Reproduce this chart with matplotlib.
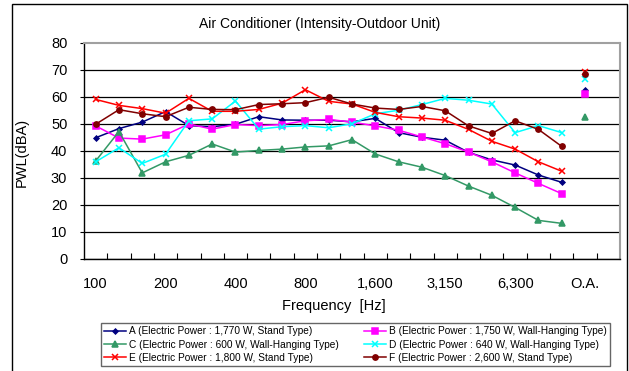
import matplotlib
matplotlib.use('Agg')
import matplotlib.pyplot as plt
from matplotlib.patches import Rectangle
import numpy as np

plt.rcParams['font.family'] = ['Liberation Sans', 'DejaVu Sans']

# 1/3 octave bands 100 Hz .. 10 kHz, then an empty slot, then overall
bands = ['100', '125', '160', '200', '250', '315', '400', '500', '630', '800',
         '1,000', '1,250', '1,600', '2,000', '2,500', '3,150', '4,000', '5,000',
         '6,300', '8,000', '10,000']
shown_labels = ['100', '200', '400', '800', '1,600', '3,150', '6,300', 'O.A.']
n_slots = 23
oa_slot = 21

a_vals = [44.9, 48.3, 50.7, 54.6, 49.4, 49.0, 49.9, 52.7, 51.5, 51.4, 51.4,
          50.8, 52.1, 46.8, 45.1, 44.0, 39.5, 36.7, 34.8, 31.1, 28.4]
b_vals = [49.3, 44.8, 44.4, 46.0, 50.0, 48.1, 49.8, 49.4, 49.8, 51.2, 51.7,
          50.7, 49.3, 47.7, 45.2, 42.7, 39.6, 36.0, 31.9, 28.0, 24.2]
c_vals = [36.3, 47.2, 31.9, 36.0, 38.4, 42.6, 39.6, 40.2, 40.7, 41.5, 41.9,
          44.2, 38.9, 36.0, 34.0, 30.9, 27.0, 23.6, 19.1, 14.3, 13.2]
d_vals = [36.0, 41.2, 35.4, 38.8, 51.2, 51.9, 58.5, 48.1, 49.0, 49.4, 48.6,
          50.1, 53.8, 55.1, 57.2, 59.5, 58.8, 57.4, 46.8, 49.4, 46.8]
e_vals = [59.1, 56.9, 55.7, 54.0, 59.5, 54.7, 54.7, 55.4, 57.7, 62.7, 58.4,
          57.4, 54.3, 52.7, 52.2, 51.4, 48.0, 43.6, 40.7, 36.0, 32.5]
f_vals = [49.9, 55.3, 53.8, 52.7, 56.2, 55.4, 55.3, 57.2, 57.5, 57.9, 59.9,
          57.4, 55.9, 55.4, 56.5, 54.9, 49.3, 46.5, 51.2, 48.0, 41.7]
oa_vals = [62.5, 61.0, 52.6, 66.7, 69.1, 68.4]

names = ['A (Electric Power : 1,770 W, Stand Type)',
         'B (Electric Power : 1,750 W, Wall-Hanging Type)',
         'C (Electric Power : 600 W, Wall-Hanging Type)',
         'D (Electric Power : 640 W, Wall-Hanging Type)',
         'E (Electric Power : 1,800 W, Stand Type)',
         'F (Electric Power : 2,600 W, Stand Type)']
colors = ['#000080', '#FF00FF', '#339966', '#00FFFF', '#FF0000', '#800000']
markers = ['D', 's', '^', 'x', 'x', 'o']
msizes = [2.5, 3.8, 3.8, 3.8, 3.8, 3.8]

series = [a_vals, b_vals, c_vals, d_vals, e_vals, f_vals]

fig = plt.figure(figsize=(6.29, 3.71), dpi=100)
ax = fig.add_axes([84/629, 1 - 259/371, 536/629, 216/371])

xs = np.arange(len(bands)) + 0.5
handles = []
for vals, oa, col, mk, ms, nm in zip(series, oa_vals, colors, markers, msizes, names):
    h, = ax.plot(xs, vals, color=col, marker=mk, markersize=ms, lw=1.1,
                 markeredgewidth=1.1, label=nm, zorder=3)
    ax.plot([oa_slot + 0.5], [oa], color=col, marker=mk, markersize=ms,
            markeredgewidth=1.1, zorder=3)
    handles.append(h)

ax.set_xlim(0, n_slots)
ax.set_ylim(0, 80)
ax.set_yticks(np.arange(0, 81, 10))
ax.yaxis.grid(True, color='black', lw=0.9)
ax.yaxis.get_gridlines()[-1].set_visible(False)
ax.set_axisbelow(True)
ax.tick_params(axis='y', direction='out', length=3, pad=9, labelsize=10.5)

# ticks at slot boundaries, labels in the middle of selected slots
ax.set_xticks(np.arange(1, n_slots))
ax.set_xticklabels([])
ax.tick_params(axis='x', which='major', direction='in', length=4.5, width=0.8)
lab_pos = [bands.index(b) + 0.5 for b in shown_labels[:-1]] + [oa_slot + 0.5]
ax.set_xticks(lab_pos, minor=True)
ax.set_xticklabels(shown_labels, minor=True)
ax.tick_params(axis='x', which='minor', length=0, pad=13, labelsize=10.5)

for s in ['top', 'right']:
    ax.spines[s].set_color('#a0a0a0')
    ax.spines[s].set_linewidth(1.5)
for s in ['left', 'bottom']:
    ax.spines[s].set_color('black')
    ax.spines[s].set_linewidth(1)

fig.text(320/629, 1 - 24/371, 'Air Conditioner (Intensity-Outdoor Unit)',
         ha='center', va='center', fontsize=10)
fig.text(334/629, 1 - 306/371, 'Frequency  [Hz]', ha='center', va='center', fontsize=10.5)
fig.text(22/629, 1 - 152/371, 'PWL(dBA)', ha='center', va='center',
         rotation=90, fontsize=10.5)

order = [0, 2, 4, 1, 3, 5]
leg = fig.legend([handles[i] for i in order], [names[i] for i in order], ncol=2,
                 loc='center', bbox_to_anchor=(96/629, 1/371, 519/629, 51/371),
                 mode='expand', fontsize=7.3, frameon=True, fancybox=False,
                 edgecolor='#404040', handlelength=2.2, handletextpad=0.3,
                 labelspacing=0.3, borderpad=0.3, columnspacing=1.0)
leg.get_frame().set_linewidth(1)

fig.patches.append(Rectangle((12/629, -0.02), 615/629, 1.02 - 4/371,
                             transform=fig.transFigure, fill=False,
                             edgecolor='black', lw=1))

fig.savefig('out.png', dpi=100)
